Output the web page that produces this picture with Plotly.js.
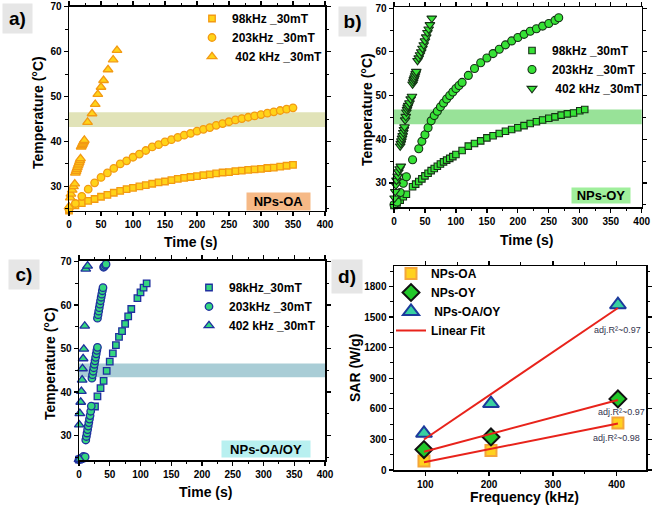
<!DOCTYPE html>
<html><head><meta charset="utf-8">
<script src="https://cdn.plot.ly/plotly-3.0.1.min.js"></script>
<style>html,body{margin:0;padding:0;background:#fff}#chart{width:653px;height:508px}</style>
</head><body><div id="chart"></div>
<script>
// ---------- (a) NPs-OA ----------
const oa_t98 = [0,10,20,30,40,50,60,70,80,90,100,110,120,130,140,150,160,170,180,190,200,210,220,230,240,250,260,270,280,290,300,310,320,330,340,350];
const oa_T98 = [24.6,25.8,26.3,26.8,27.2,27.7,28.1,28.6,29.0,29.4,29.7,30.0,30.3,30.6,30.9,31.1,31.4,31.7,31.9,32.1,32.3,32.5,32.7,32.9,33.1,33.2,33.4,33.5,33.7,33.8,33.9,34.1,34.2,34.4,34.6,34.8];
const oa_t203 = [0,10,20,30,40,50,60,70,80,90,100,110,120,130,140,150,160,170,180,190,200,210,220,230,240,250,260,270,280,290,300,310,320,330,340,350];
const oa_T203 = [24.9,26.2,27.8,29.4,30.8,32.0,33.0,34.0,35.0,35.7,36.5,37.2,38.0,38.8,39.3,39.9,40.4,40.9,41.4,41.8,42.3,42.7,43.1,43.6,44.0,44.4,44.8,45.1,45.4,45.7,46.0,46.3,46.6,46.9,47.2,47.5];
const oa_t402 = [0,2,3,5,7,9,10,11,12,13,14,15,16,17,18,19,20,21,22,23,24,29,36,41,45,50,54,61,69,75];
const oa_T402 = [25.5,27.5,28.3,29.2,30.0,30.6,33.0,33.4,33.8,34.2,34.6,35.0,35.4,35.8,36.2,38.8,39.1,39.4,39.7,40.0,40.3,44.3,46.2,48.3,50.5,52.1,53.6,56.0,58.2,60.3];
const oa_band = [43.2, 46.5];

// ---------- (b) NPs-OY ----------
const oy_t98 = [0,5,10,15,20,30,35,40,45,50,55,60,65,70,75,80,85,90,95,100,110,120,130,140,150,160,170,180,190,200,210,220,230,240,250,260,270,280,290,300,308];
const oy_T98 = [24.8,25.4,26.0,26.8,27.4,29.1,29.7,30.3,30.9,31.6,32.2,32.8,33.3,33.8,34.3,34.8,35.2,35.6,36.0,36.5,37.4,38.4,39.0,39.6,40.3,40.8,41.3,41.8,42.2,42.6,43.1,43.6,44.0,44.4,44.8,45.1,45.5,45.8,46.0,46.5,46.8];
const oy_t203 = [0,5,10,15,20,30,40,45,50,55,60,65,70,75,80,85,90,95,100,105,110,120,130,140,150,160,170,180,190,200,210,220,230,240,250,260,266];
const oy_T203 = [25.0,25.6,27.8,29.9,31.4,35.3,37.8,39.5,41.0,42.6,44.2,45.4,46.4,47.4,48.3,49.2,50.0,50.8,51.6,52.3,53.0,54.6,56.2,57.5,58.6,59.6,60.6,61.6,62.5,63.3,64.0,64.7,65.3,65.9,66.5,67.2,67.8];
const oy_t402 = [1,2,3,4,6,7,9,11,10,11,12,13,14,15,16,17,18,19,20,21,22,23,25,27,29,30,31,32,33,34,35,36,38,40,42,44,46,48,50,52,54,56,58,61];
const oy_T402 = [26.5,28.0,29.5,30.6,31.5,32.5,33.2,33.8,38.4,39.0,39.6,40.2,40.8,41.5,42.2,42.8,44.4,45.2,46.2,46.8,47.3,47.7,48.3,49.2,49.8,52.6,53.1,53.6,54.0,54.5,55.0,55.5,58.0,58.6,59.3,60.0,60.8,61.6,62.5,63.4,64.4,65.2,66.2,67.7];
const oy_band = [43.4, 46.8];

// ---------- (c) NPs-OA/OY ----------
const mix_t98 = [0,2,4,26,30,35,40,45,50,55,60,65,70,75,80,85,95,100,105,110];
const mix_T98 = [24.5,24.6,24.7,36.7,39.0,40.9,42.6,44.9,47.0,48.9,50.8,52.7,54.0,55.7,57.4,59.1,61.6,62.9,64.0,65.0];
const mix_t203 = [0,2,4,7,10,11,12,13,14,15,16,17,18,19,20,21,22,23,24,25,26,27,28,29,30,30,31,32,33,34,35,36,37,38,39,40,41,43,44];
const mix_T203 = [24.5,24.6,24.7,25.2,25.1,29.0,29.8,30.6,31.4,32.2,33.0,33.8,34.6,35.6,36.8,43.2,44.0,44.8,45.6,46.4,47.2,48.0,48.8,49.6,50.3,57.0,57.8,58.6,59.4,60.2,61.0,61.8,62.5,63.3,64.0,68.7,68.9,69.2,69.4];
const mix_t402 = [0,1,0.5,1.3,2.8,3.9,5.1,5.7,6.7,7.8,9.3,11,14];
const mix_T402 = [24.5,24.6,32.5,35.1,37.7,40.2,42.8,45.4,47.7,49.9,55.2,68.3,69.0];
const mix_band = [43.4, 46.6];

// ---------- (d) SAR ----------
const freq = [98, 203, 402];
const sar_oa = [88, 190, 462];
const sar_oy = [200, 324, 697];
const sar_mix = [360, 651, 1620];
const r2_labels = ['adj.R²~0.98', 'adj.R²~0.97', 'adj.R²~0.97'];

// ---------- helpers ----------
const W = 653, H = 508;
const FONT = "'Liberation Sans',Arial,sans-serif";
const PX = x => x / W, PY = y => 1 - y / H;

function linfit(xs, ys) {
  const n = xs.length;
  const mx = xs.reduce((a, b) => a + b, 0) / n, my = ys.reduce((a, b) => a + b, 0) / n;
  let sxy = 0, sxx = 0;
  for (let i = 0; i < n; i++) { sxy += (xs[i] - mx) * (ys[i] - my); sxx += (xs[i] - mx) ** 2; }
  const b = sxy / sxx, a = my - b * mx;
  const x0 = Math.min(...xs), x1 = Math.max(...xs);
  return { x: [x0, x1], y: [a + b * x0, a + b * x1] };
}

function sc(x, y, name, xa, ya, lg, marker) {
  return { type: 'scatter', mode: 'markers', x, y, name, xaxis: xa, yaxis: ya, legend: lg,
           marker, cliponaxis: false, hoverinfo: 'skip' };
}

const mA = (s, sz) => ({ symbol: s, size: sz, color: '#ffd319', line: { color: '#f39a12', width: 1.3 } });
const mB = (s, sz) => ({ symbol: s, size: sz, color: '#36e236', line: { color: '#163016', width: 1.1 } });
const mC = (s, sz) => ({ symbol: s, size: sz, color: '#35d67f', line: { color: '#1f2f9f', width: 1.3 } });

const data = [
  sc(oa_t98, oa_T98, '98kHz _30mT', 'x', 'y', 'legend', mA('square', 6.5)),
  sc(oa_t203, oa_T203, '203kHz _30mT', 'x', 'y', 'legend', mA('circle', 7.5)),
  sc(oa_t402, oa_T402, ' 402 kHz _30mT', 'x', 'y', 'legend', mA('triangle-up', 8.5)),
  sc(oy_t98, oy_T98, '98kHz _30mT', 'x2', 'y2', 'legend2', mB('square', 6.5)),
  sc(oy_t203, oy_T203, '203kHz _30mT', 'x2', 'y2', 'legend2', mB('circle', 8)),
  sc(oy_t402, oy_T402, ' 402 kHz _30mT', 'x2', 'y2', 'legend2', mB('triangle-down', 8.5)),
  sc(mix_t98, mix_T98, '98kHz_30mT', 'x3', 'y3', 'legend3', mC('square', 6.5)),
  sc(mix_t203, mix_T203, '203kHz _30mT', 'x3', 'y3', 'legend3', mC('circle', 7.5)),
  sc(mix_t402, mix_T402, '402 kHz _30mT', 'x3', 'y3', 'legend3', mC('triangle-up', 8.5)),
  sc(freq, sar_oa, 'NPs-OA', 'x4', 'y4', 'legend4', { symbol: 'square', size: 11, color: '#ffd21f', line: { color: '#f4a53a', width: 2 } }),
  sc(freq, sar_oy, 'NPs-OY', 'x4', 'y4', 'legend4', { symbol: 'diamond', size: 13, color: '#22c82a', line: { color: '#111111', width: 2 } }),
  sc(freq, sar_mix, ' NPs-OA/OY', 'x4', 'y4', 'legend4', { symbol: 'triangle-up', size: 14, color: '#38d1a0', line: { color: '#1c3a9c', width: 2 } })
];
[sar_oa, sar_oy, sar_mix].forEach((s, i) => {
  const f = linfit(freq, s);
  data.push({ type: 'scatter', mode: 'lines', x: f.x, y: f.y, name: 'Linear Fit', xaxis: 'x4', yaxis: 'y4',
              legend: 'legend4', showlegend: i === 0, line: { color: '#e8231b', width: 2 }, hoverinfo: 'skip' });
});

const tickF = { family: FONT, size: 10, color: '#000', weight: 'bold' };
const titleF = { family: FONT, size: 14, color: '#000', weight: 'bold' };
const legF = { family: FONT, size: 12, color: '#000', weight: 'bold' };

function axis(domain, range, dtick, mdtick, anchor) {
  return { domain, range, anchor, dtick, tick0: 0, showline: true, linecolor: '#000', linewidth: 1.5,
    mirror: 'ticks', ticks: 'outside', ticklen: 4, tickwidth: 1.3, tickcolor: '#000',
    minor: { dtick: mdtick, tick0: 0, ticks: 'outside', ticklen: 2.5, tickwidth: 1, tickcolor: '#000' },
    showgrid: false, zeroline: false, tickfont: tickF, fixedrange: true };
}

function ttl(text, x, y, angle) {
  return { text, xref: 'paper', yref: 'paper', x: PX(x), y: PY(y), xanchor: 'center', yanchor: 'middle',
           showarrow: false, textangle: angle, font: titleF };
}

const legBase = { xanchor: 'left', yanchor: 'top', bgcolor: 'rgba(0,0,0,0)', font: legF };

const layout = {
  width: W, height: H, margin: { l: 0, r: 0, t: 0, b: 0 }, paper_bgcolor: '#fff', plot_bgcolor: '#fff',
  font: { family: FONT, color: '#000' },
  xaxis: axis([PX(69), PX(325)], [0, 400], 50, 25, 'y'),
  yaxis: axis([PY(210.7), PY(6.7)], [24.6, 70], 10, 5, 'x'),
  xaxis2: axis([PX(394), PX(641.7)], [0, 400], 50, 25, 'y2'),
  yaxis2: axis([PY(207.3), PY(7.3)], [24.4, 70.2], 10, 5, 'x2'),
  xaxis3: axis([PX(79), PX(325)], [0, 400], 50, 25, 'y3'),
  yaxis3: axis([PY(460), PY(260.7)], [24.4, 70.2], 10, 5, 'x3'),
  xaxis4: axis([PX(394), PX(646)], [51, 446], 100, 50, 'y4'),
  yaxis4: axis([PY(470), PY(266)], [0, 2000], 300, 150, 'x4'),
  showlegend: true,
  legend: { ...legBase, x: PX(192), y: PY(4) },
  legend2: { ...legBase, x: PX(512), y: PY(36) },
  legend3: { ...legBase, x: PX(189), y: PY(273) },
  legend4: { ...legBase, x: PX(391), y: PY(259) },
  shapes: [
    { type: 'rect', xref: 'x domain', yref: 'y', x0: 0, x1: 1, y0: oa_band[0], y1: oa_band[1], fillcolor: '#e1e3b8', line: { width: 0 }, layer: 'below' },
    { type: 'rect', xref: 'x2 domain', yref: 'y2', x0: 0, x1: 1, y0: oy_band[0], y1: oy_band[1], fillcolor: '#98e298', line: { width: 0 }, layer: 'below' },
    { type: 'rect', xref: 'x3 domain', yref: 'y3', x0: 0, x1: 1, y0: mix_band[0], y1: mix_band[1], fillcolor: '#a9cdd6', line: { width: 0 }, layer: 'below' }
  ],
  annotations: [
    ttl('Temperature (°C)', 38, 113, -90),
    ttl('Time (s)', 190, 242, 0),
    ttl('Temperature (°C)', 367, 110, -90),
    ttl('Time (s)', 526, 240, 0),
    ttl('Temperature (°C)', 50, 363, -90),
    ttl('Time (s)', 205, 492, 0),
    ttl('SAR (W/g)', 355, 368, -90),
    ttl('Frequency (kHz)', 524, 497, 0),
    ...[['a)', 17.2, 18.7, 29, 29], ['b)', 352.3, 21.7, 27, 29], ['c)', 24.3, 274.7, 30, 29], ['d)', 347.3, 276.3, 30, 33]].map(([t, x, y, w, h]) => ({
      text: t, xref: 'paper', yref: 'paper', x: PX(x), y: PY(y), xanchor: 'center', yanchor: 'middle', showarrow: false,
      width: w, height: h, borderpad: 0, bgcolor: '#e6e6e6',
      font: { family: FONT, size: 19, weight: 'bold', color: '#000' } })),
    ...[['NPs-OA', 278.3, 201.7, 63, 17, '#f6b986'], ['NPs-OY', 601.2, 195, 58, 15, '#a0ef9c'], ['NPs-OA/OY', 265.8, 448.7, 88, 16, '#b8f0f0']].map(([t, x, y, w, h, c]) => ({
      text: t, xref: 'paper', yref: 'paper', x: PX(x), y: PY(y), xanchor: 'center', yanchor: 'middle', showarrow: false,
      width: w, height: h, borderpad: 0, bgcolor: c, font: { family: FONT, size: 13, weight: 'bold', color: '#000' } })),
    ...[[399, 317, 0], [408, 573, 1], [401, 1375, 2]].map(([x, y, i]) => ({
      text: r2_labels[i], xref: 'x4', yref: 'y4', x, y, xanchor: 'center', yanchor: 'middle', showarrow: false,
      font: { family: FONT, size: 9, color: '#34344e' } }))
  ]
};

Plotly.newPlot('chart', data, layout, { staticPlot: true, displayModeBar: false });
</script></body></html>
